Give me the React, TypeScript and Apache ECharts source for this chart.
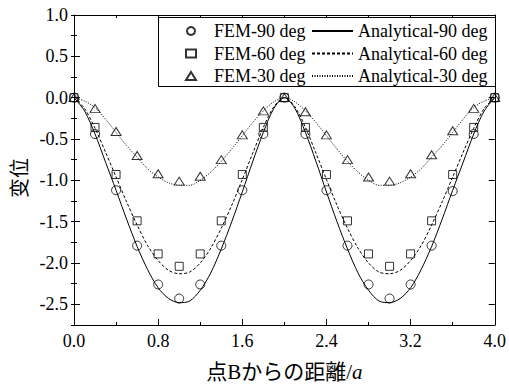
import React, { useEffect, useRef } from 'react';
import * as echarts from 'echarts';

// FEM sample positions (distance from B / a)
const X_FEM = [0, 0.2, 0.4, 0.6, 0.8, 1.0, 1.2, 1.4, 1.6, 1.8, 2.0, 2.2, 2.4, 2.6, 2.8, 3.0, 3.2, 3.4, 3.6, 3.8, 4.0];
const FEM_90 = [0, -0.44, -1.12, -1.79, -2.26, -2.43, -2.26, -1.79, -1.12, -0.44, 0, -0.44, -1.12, -1.79, -2.26, -2.43, -2.26, -1.79, -1.13, -0.44, 0];
const FEM_60 = [0, -0.36, -0.93, -1.49, -1.89, -2.04, -1.89, -1.49, -0.93, -0.36, 0, -0.36, -0.93, -1.49, -1.89, -2.04, -1.89, -1.49, -0.93, -0.36, 0];
const FEM_30 = [0, -0.13, -0.41, -0.70, -0.92, -1.01, -0.95, -0.75, -0.45, -0.16, 0, -0.17, -0.45, -0.75, -0.96, -1.01, -0.92, -0.69, -0.40, -0.13, 0];

// Analytical curve positions
const X_ANA = [0, 0.1, 0.2, 0.3, 0.4, 0.5, 0.6, 0.7, 0.8, 0.9, 1.0, 1.1, 1.2, 1.3, 1.4, 1.5, 1.6, 1.7, 1.8, 1.9, 2.0,
  2.1, 2.2, 2.3, 2.4, 2.5, 2.6, 2.7, 2.8, 2.9, 3.0, 3.1, 3.2, 3.3, 3.4, 3.5, 3.6, 3.7, 3.8, 3.9, 4.0];
const ANA_90 = [0, -0.16, -0.44, -0.78, -1.12, -1.47, -1.80, -2.08, -2.30, -2.43, -2.48, -2.46, -2.33, -2.12, -1.83, -1.50, -1.14, -0.77, -0.42, -0.13, 0,
  -0.13, -0.42, -0.77, -1.14, -1.50, -1.83, -2.12, -2.33, -2.46, -2.48, -2.43, -2.30, -2.08, -1.80, -1.47, -1.12, -0.78, -0.44, -0.16, 0];
const ANA_60 = [0, -0.13, -0.37, -0.66, -0.96, -1.26, -1.54, -1.79, -1.97, -2.09, -2.13, -2.11, -2.00, -1.82, -1.58, -1.30, -0.99, -0.67, -0.36, -0.11, 0,
  -0.11, -0.36, -0.67, -0.99, -1.30, -1.58, -1.82, -2.00, -2.11, -2.13, -2.09, -1.97, -1.79, -1.54, -1.26, -0.96, -0.66, -0.37, -0.13, 0];
const ANA_30 = [0, -0.04, -0.12, -0.26, -0.42, -0.58, -0.72, -0.86, -0.96, -1.03, -1.06, -1.06, -1.00, -0.90, -0.77, -0.62, -0.46, -0.30, -0.16, -0.05, 0,
  -0.05, -0.16, -0.30, -0.46, -0.62, -0.77, -0.90, -1.00, -1.06, -1.06, -1.03, -0.96, -0.86, -0.72, -0.58, -0.42, -0.26, -0.12, -0.04, 0];

// Axis ticks
const Y_MAJOR = [-2.5, -2.0, -1.5, -1.0, -0.5, 0.0, 0.5, 1.0];
const Y_MINOR = [-2.75, -2.5, -2.25, -2.0, -1.75, -1.5, -1.25, -1.0, -0.75, -0.5, -0.25, 0, 0.25, 0.5, 0.75, 1.0];

const FEM_NAMES = ['FEM-90 deg', 'FEM-60 deg', 'FEM-30 deg'];
const ANA_NAMES = ['Analytical-90 deg', 'Analytical-60 deg', 'Analytical-30 deg'];

const SERIF = "'Liberation Serif', 'Times New Roman', serif";
const BLACK = '#000';

function pairs(xs: number[], ys: number[]) {
  return xs.map((x, i) => [x, ys[i]]);
}

export default function App() {
  const ref = useRef<HTMLDivElement>(null);
  useEffect(() => {
    const chart = echarts.init(ref.current!, null, { renderer: 'svg' });
    const line = { color: BLACK, width: 1 };
    const xBase = {
      type: 'value', min: 0, max: 4, interval: 0.8,
      axisLine: { show: true, onZero: false, lineStyle: line },
      axisTick: { show: true, inside: true, length: 6, lineStyle: line },
      minorTick: { show: true, splitNumber: 2, length: 3, lineStyle: line },
      splitLine: { show: false }, minorSplitLine: { show: false },
    };
    const yMajor = (pos: string, labels: boolean) => ({
      type: 'value', position: pos, min: -2.75, max: 1, interval: 0.25,
      axisLine: { show: true, onZero: false, lineStyle: line },
      axisTick: { show: true, inside: true, length: 6, customValues: Y_MAJOR, lineStyle: line },
      axisLabel: labels ? {
        show: true, customValues: Y_MAJOR, color: BLACK, fontFamily: SERIF, fontSize: 18, margin: 6,
        formatter: (v: number) => v.toFixed(1),
      } : { show: false },
      splitLine: { show: false },
    });
    const yMinor = (pos: string) => ({
      type: 'value', position: pos, min: -2.75, max: 1, interval: 0.25,
      axisLine: { show: false },
      axisTick: { show: true, inside: true, length: 3, customValues: Y_MINOR, lineStyle: line },
      axisLabel: { show: false },
      splitLine: { show: false },
    });
    const legendText = { fontFamily: SERIF, fontSize: 18, color: BLACK, lineHeight: 18 };
    const option = {
      animation: false,
      backgroundColor: '#fff',
      textStyle: { fontFamily: SERIF },
      grid: { left: 74, top: 15, width: 423, height: 310, show: false },
      xAxis: [
        {
          ...xBase, position: 'bottom',
          axisLabel: { show: true, color: BLACK, fontFamily: SERIF, fontSize: 18, margin: 7, formatter: (v: number) => v.toFixed(1) },
          name: '点Bからの距離/{i|a}', nameLocation: 'middle', nameGap: 36,
          nameTextStyle: {
            fontFamily: "'Liberation Serif', 'Noto Sans CJK JP'", fontSize: 21, color: BLACK,
            rich: { i: { fontStyle: 'italic', fontFamily: SERIF, fontSize: 21, color: BLACK } },
          },
        },
        { ...xBase, position: 'top', axisLabel: { show: false } },
      ],
      yAxis: [
        {
          ...yMajor('left', true),
          name: '变位', nameLocation: 'middle', nameRotate: 90, nameGap: 43,
          nameTextStyle: { fontFamily: "'Noto Sans CJK SC'", fontSize: 20, color: BLACK, padding: [0, 16, 0, 0] },
        },
        yMinor('left'),
        yMajor('right', false),
        yMinor('right'),
      ],
      legend: [
        {
          data: FEM_NAMES, orient: 'vertical', left: 185, top: 22, padding: 0,
          itemWidth: 10, itemHeight: 8, itemGap: 4.5, selectedMode: false,
          textStyle: { ...legendText, padding: [0, 0, 0, 13] }, z: 10,
        },
        {
          data: ANA_NAMES, orient: 'vertical', left: 311, top: 22, padding: 0,
          itemWidth: 41, itemHeight: 8, itemGap: 4.5, selectedMode: false,
          itemStyle: { opacity: 0 },
          textStyle: legendText, z: 10,
        },
      ],
      graphic: [
        {
          type: 'rect', z: 5,
          shape: { x: 158.5, y: 17.5, width: 337, height: 69 },
          style: { fill: '#fff', stroke: BLACK, lineWidth: 1 },
        },
      ],
      series: [
        { name: ANA_NAMES[0], type: 'line', data: pairs(X_ANA, ANA_90), symbol: 'none', smooth: 0.3, lineStyle: { color: BLACK, width: 1, type: 'solid' }, itemStyle: { color: BLACK }, z: 2 },
        { name: ANA_NAMES[1], type: 'line', data: pairs(X_ANA, ANA_60), symbol: 'none', smooth: 0.3, lineStyle: { color: BLACK, width: 1, type: [3, 2] }, itemStyle: { color: BLACK }, z: 2 },
        { name: ANA_NAMES[2], type: 'line', data: pairs(X_ANA, ANA_30), symbol: 'none', smooth: 0.3, lineStyle: { color: BLACK, width: 1, type: [1, 1.5] }, itemStyle: { color: BLACK }, z: 2 },
        { name: FEM_NAMES[0], type: 'scatter', data: pairs(X_FEM, FEM_90), symbol: 'circle', symbolSize: 9, itemStyle: { color: 'rgba(255,255,255,0)', borderColor: BLACK, borderWidth: 1 }, z: 3 },
        { name: FEM_NAMES[1], type: 'scatter', data: pairs(X_FEM, FEM_60), symbol: 'rect', symbolSize: 8, itemStyle: { color: 'rgba(255,255,255,0)', borderColor: BLACK, borderWidth: 1 }, z: 3 },
        { name: FEM_NAMES[2], type: 'scatter', data: pairs(X_FEM, FEM_30), symbol: 'triangle', symbolSize: [10, 8], itemStyle: { color: 'rgba(255,255,255,0)', borderColor: BLACK, borderWidth: 1 }, z: 3 },
      ],
    };
    chart.setOption(option as any);
    return () => chart.dispose();
  }, []);
  return <div ref={ref} style={{ position: 'fixed', left: 0, top: 0, width: 509, height: 387, background: '#fff' }} />;
}
